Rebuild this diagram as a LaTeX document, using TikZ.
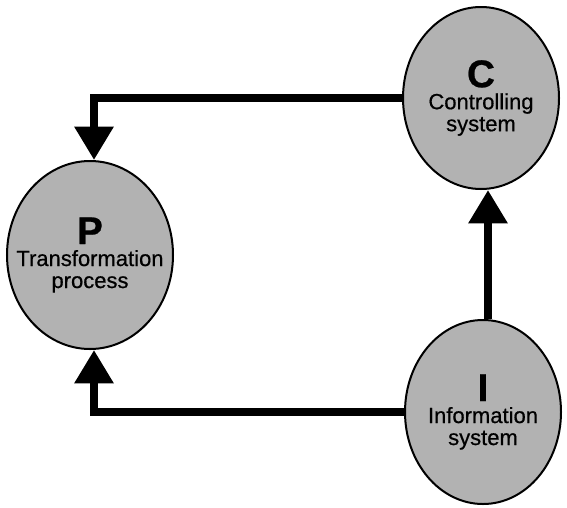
\documentclass[tikz,border=0pt]{standalone}
\usepackage{fontspec}
\setmainfont{Liberation Sans}
\usetikzlibrary{shapes.geometric,arrows.meta}
\newcommand\sysletter[1]{{\fontsize{29}{16.5}\selectfont\bfseries #1}}
\begin{document}
\begin{tikzpicture}[x=0.75pt,y=-0.75pt,
  sysblob/.style={ellipse, draw=black, line width=1.5pt, fill=black!30, inner sep=0pt},
  blobtext/.style={align=center, inner sep=0pt,
    font=\fontsize{16.5}{16.5}\selectfont\addfontfeatures{FakeBold=0.6}},
  conn/.style={line width=6pt, line join=miter, line cap=butt,
    -{Triangle[width=28pt,length=25pt]}}
]
\useasboundingbox (0,0) rectangle (567,507);

% the three systems
\node[sysblob, minimum width=124.5pt, minimum height=141pt] (P) at (90,255) {};
\node[sysblob, minimum width=117pt, minimum height=136.5pt] (C) at (481,98) {};
\node[sysblob, minimum width=117pt, minimum height=138pt] (I) at (483,412) {};

\node[blobtext] (Ptext) at (P) {\sysletter{P}\\Transformation\\process};
\node[blobtext] (Ctext) at (C) {\sysletter{C}\\Controlling\\system};
\node[blobtext] (Itext) at (I) {\sysletter{I}\\Information\\system};

% control and information flows
\draw[conn] (C.west) -| ([xshift=3pt]P.north);
\draw[conn] (I.west) -| ([xshift=3pt]P.south);
\draw[conn] ([xshift=3.75pt]I.north) -- ([xshift=5.25pt]C.south);
\end{tikzpicture}
\end{document}
